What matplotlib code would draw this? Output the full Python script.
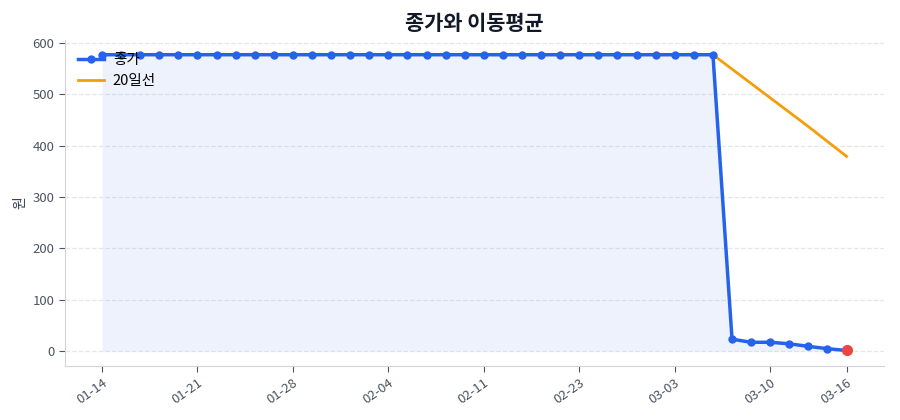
import matplotlib
matplotlib.use("Agg")
import matplotlib.pyplot as plt
import numpy as np

plt.rcParams['font.family'] = ['Noto Sans CJK KR', 'DejaVu Sans']

# Closing prices (won), one per trading day
close = [577, 577, 577, 577, 577, 577, 577, 577, 577, 577,
         577, 577, 577, 577, 577, 577, 577, 577, 577, 577,
         577, 577, 577, 577, 577, 577, 577, 577, 577, 577,
         577, 577, 577, 23, 17, 17, 14, 9, 4.5, 1]

# 20-day moving average (only defined from day 20)
ma20_start = 20
ma20 = [577, 577, 577, 577, 577, 577, 577, 577, 577, 577,
        577, 577, 577, 549, 521, 493, 465, 437, 408, 379]

tick_idx = [0, 5, 10, 15, 20, 25, 30, 35, 39]
tick_labels = ["01-14", "01-21", "01-28", "02-04", "02-11",
               "02-23", "03-03", "03-10", "03-16"]

BLUE = "#2563eb"
ORANGE = "#f59e0b"
RED = "#ef4444"

x = np.arange(len(close))
x_ma = np.arange(ma20_start, ma20_start + len(ma20))

fig = plt.figure(figsize=(9, 4.2), dpi=100)
ax = fig.add_axes([0.072, 0.129, 0.910, 0.776])

ax.fill_between(x, close, 0, color=BLUE, alpha=0.08, linewidth=0)
ma_line, = ax.plot(x_ma, ma20, color=ORANGE, linewidth=2, label="20일선", zorder=2)
close_line, = ax.plot(x, close, color=BLUE, linewidth=2.5, marker="o", markersize=5,
                      label="종가", zorder=3)
ax.plot(x[-1], close[-1], "o", color=RED, markersize=7, zorder=4)

ax.set_title("종가와 이동평균", fontsize=15, fontweight="bold", color="#111827", pad=7)
ax.set_ylabel("원", fontsize=10, color="#374151")

ax.set_xticks(tick_idx)
ax.set_xticklabels(tick_labels, rotation=35, ha="right", rotation_mode="anchor")
ax.tick_params(axis="both", colors="#4b5563", labelsize=9.5, length=4)
ax.set_yticks([0, 100, 200, 300, 400, 500, 600])

ax.grid(axis="y", linestyle="--", color="#e5e7eb", linewidth=0.9)
ax.set_axisbelow(True)
for side in ["top", "right"]:
    ax.spines[side].set_visible(False)
for side in ["left", "bottom"]:
    ax.spines[side].set_color("#d1d5db")

ax.legend(handles=[close_line, ma_line], loc="upper left", frameon=False,
          fontsize=10.5, handlelength=1.8, handletextpad=0.6)

fig.savefig("out.png", dpi=100, facecolor="white")
